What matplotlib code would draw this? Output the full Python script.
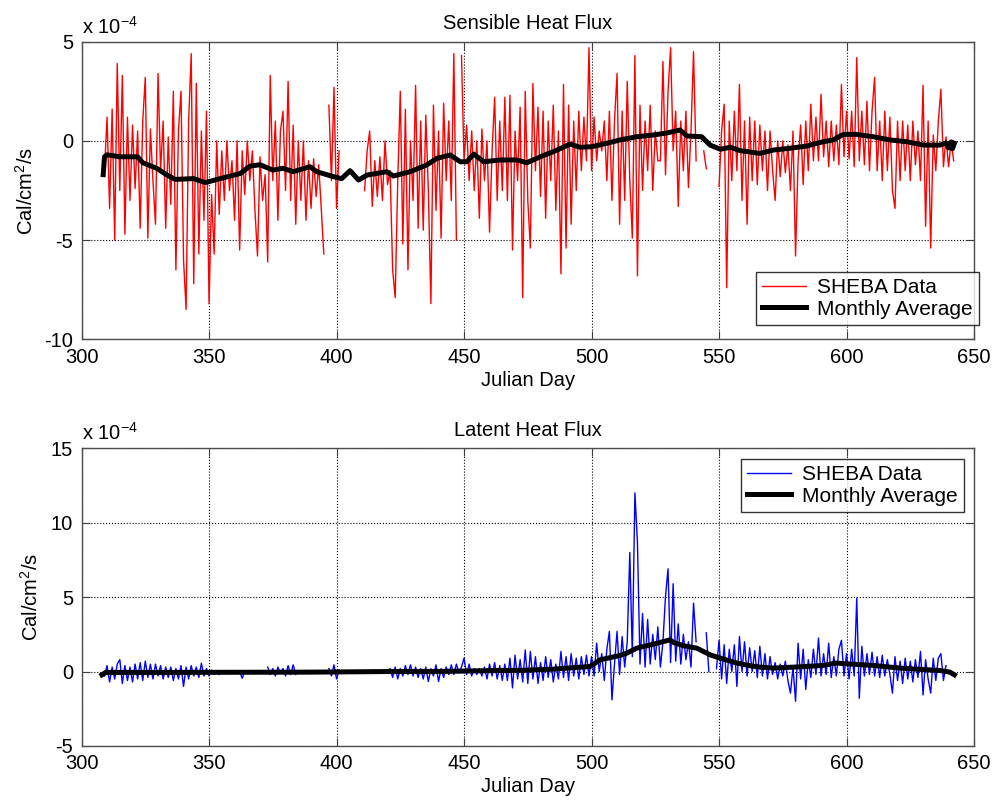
import numpy as np
import matplotlib
matplotlib.use("Agg")
import matplotlib.pyplot as plt

plt.rcParams['font.family'] = ['Liberation Sans', 'DejaVu Sans']
plt.rcParams['mathtext.fontset'] = 'custom'
plt.rcParams['mathtext.rm'] = 'Liberation Sans'
plt.rcParams['mathtext.it'] = 'Liberation Sans:italic'
plt.rcParams['axes.unicode_minus'] = False
plt.rcParams['font.size'] = 14.5

nan = np.nan
first_day = 309

# Sensible heat flux, one reading per day from day 309 (x 1e-4 cal/cm2/s)
sensible = [
    -1.5, 1.2, -3.4, 1.6, -5.0, 3.9, -2.5, 3.3, -4.7, 1.2,
    -3.0, 0.8, -2.4, 0.5, -4.4, 1.0, 3.2, -4.9, 0.6, -2.0,
    -4.2, 3.4, -1.5, 1.0, -4.4, 0.2, -3.2, 2.5, -6.5, 0.5,
    2.5, -6.0, -8.5, 1.0, 4.4, -7.2, 2.9, -5.7, 0.5, -4.0,
    1.5, -8.2, -2.7, -5.7, 0.0, -3.7, -0.5, -3.0, 0.0, -2.5,
    -1.0, -4.0, 0.0, -5.5, -0.5, -2.7, 0.0, -2.0, -0.5, -3.5,
    -5.8, -0.8, -3.0, -1.7, -6.1, 3.3, -2.0, 1.0, -4.0, 0.5,
    1.5, -2.5, 3.0, -3.0, 0.8, -4.2, 0.0, -3.0, 0.0, -4.0,
    -1.0, -3.4, -0.9, -2.8, -1.2, -3.4, -5.7, nan, 1.8, -2.0,
    2.7, -3.4, -0.5, nan, nan, nan, nan, nan, nan, nan,
    nan, nan, -2.5, -0.5, 0.5, -3.3, -1.0, -2.8, -0.8, -3.0,
    0.0, -2.2, -1.5, -6.5, -7.9, -2.0, 2.5, -5.2, 1.6, -6.5,
    0.0, -3.0, 2.8, -4.4, 1.0, -4.5, 1.3, -2.5, -8.2, 1.8,
    -3.5, 0.5, -4.9, 1.9, -2.0, 1.0, -3.0, 4.4, -5.0, nan,
    4.3, -1.0, 0.8, -2.0, 0.5, -2.5, 0.0, -3.9, 0.6, -2.0,
    0.0, -4.6, -0.5, 2.2, -3.0, 1.0, -2.5, 2.2, -3.0, 2.3,
    -5.5, 0.5, -2.0, 1.7, -7.9, 2.5, -3.0, -5.4, 2.9, -1.5,
    1.7, -2.8, 1.5, -3.9, 1.0, -2.0, 1.8, -3.5, 0.5, -6.7,
    2.85, -5.4, 1.8, -4.2, 1.0, -2.5, 1.5, -1.5, 1.2, -1.0,
    4.7, -1.5, 1.2, -1.0, 0.5, -0.5, 1.0, -2.0, 1.5, -3.0,
    1.0, 3.4, -4.2, 1.5, -3.0, 3.0, -2.0, -4.9, 4.3, -6.8,
    1.8, -2.5, 1.0, -1.5, 1.8, -2.5, 0.5, -1.0, -1.0, 4.0,
    -1.7, 2.5, 4.7, -0.5, 1.5, -3.3, 1.0, -1.5, 1.5, -2.35,
    0.5, 4.5, -1.0, nan, nan, -0.5, -1.4, nan, nan, nan,
    nan, -2.3, 0.5, 1.85, -7.4, 1.0, -2.0, 1.5, -1.5, 2.85,
    -3.0, 1.0, -4.2, 1.2, -2.0, 1.0, -2.2, 0.8, -1.5, 0.5,
    -2.5, 0.5, -1.5, -3.0, 0.0, -1.8, 0.0, -1.6, -0.2, -2.5,
    0.5, -5.8, -1.0, 0.8, -2.2, 1.0, -1.5, 1.85, -1.0, 1.2,
    -1.0, 2.35, -0.8, 1.0, -1.3, 1.0, -1.0, 0.8, -1.2, 2.85,
    -0.8, 1.5, -0.9, 1.5, -1.3, 4.2, -1.0, 1.5, -1.2, 2.0,
    -1.5, 1.5, 3.2, -1.5, 1.0, -2.0, 1.5, -1.5, 1.2, -2.5,
    -3.4, 1.0, -2.0, 1.0, -1.5, 0.8, -2.0, 1.0, -1.2, 0.5,
    -2.0, 2.8, -4.3, 1.0, -5.4, 0.3, -1.5, 1.0, 2.6, -1.3,
    0.2, -1.3, 0.0, -1.0,
]

# Latent heat flux, one reading per day from day 309
latent = [
    -0.3, 0.4, -0.7, 0.3, -0.5, 0.5, 0.8, -0.8, 0.4, -0.6,
    0.3, -0.7, 0.5, -0.5, 0.6, -0.6, 0.7, -0.4, 0.5, -0.5,
    0.5, -0.3, 0.4, -0.5, 0.3, -0.4, 0.3, -0.6, 0.2, -0.5,
    0.4, -1.0, 0.3, -0.5, 0.4, -0.3, 0.3, -0.4, 0.56, -0.3,
    0.2, -0.3, 0.1, -0.2, 0.0, -0.2, nan, nan, nan, nan,
    nan, nan, nan, 0.0, -0.45, 0.0, nan, nan, nan, nan,
    nan, nan, nan, nan, 0.3, -0.2, 0.2, -0.3, 0.3, -0.1,
    0.2, -0.3, 0.4, -0.2, 0.45, -0.2, nan, nan, nan, nan,
    nan, nan, nan, nan, nan, nan, nan, nan, 0.2, -0.3,
    0.45, -0.5, 0.1, nan, nan, nan, nan, nan, nan, nan,
    nan, nan, nan, nan, nan, nan, nan, nan, nan, nan,
    nan, nan, 0.2, -0.4, 0.3, -0.5, 0.2, -0.3, 0.4, -0.2,
    0.45, -0.3, 0.3, -0.4, 0.2, -0.5, 0.3, -0.67, 0.2, -0.3,
    0.45, -0.67, 0.2, -0.4, 0.3, -0.2, 0.45, -0.2, 0.5, -0.1,
    0.3, 0.9, -0.2, 0.5, -0.3, 0.2, -0.2, 0.2, -0.3, 0.3,
    -0.5, 0.5, -0.3, 0.6, -0.5, 0.4, -0.6, 0.5, -0.6, 0.9,
    -1.1, 1.1, -0.5, 0.8, -0.7, 1.45, -0.8, 1.35, -0.5, 1.0,
    -0.8, 0.6, -0.6, 1.0, -0.4, 0.8, -0.7, 0.5, -0.5, 1.35,
    -0.4, 1.0, -0.6, 1.2, -0.3, 0.9, -0.5, 1.0, -0.2, 1.1,
    -0.3, 1.0, -0.3, 1.9, 0.0, 1.2, -0.6, 1.5, 2.7, -1.9,
    0.5, 2.7, -0.2, 2.35, 0.3, 2.0, 8.0, 1.0, 12.0, 8.7,
    0.5, 3.9, 0.3, 3.5, 0.5, 2.5, 0.8, 3.0, 0.3, 2.0,
    5.04, 6.9, 0.6, 5.9, 0.7, 3.2, 0.5, 2.5, 0.8, 2.0,
    0.3, 4.6, 2.0, nan, nan, nan, 2.6, 0.0, nan, nan,
    0.2, 2.1, -0.5, 1.8, -0.8, 1.5, 0.0, 1.8, -1.0, 2.35,
    0.0, 2.0, -0.3, 1.6, 0.0, 1.4, -0.4, 1.7, -0.3, 1.2,
    -0.5, 1.0, -0.2, 0.6, -0.5, 0.5, -0.3, 0.7, -0.6, -1.45,
    0.3, -2.0, 1.9, -0.5, 1.5, -1.2, 0.8, -0.4, 1.5, -0.2,
    2.25, -0.3, 1.2, -0.2, 1.9, -0.4, 1.0, -0.3, 1.5, 2.1,
    -0.3, 1.2, -0.5, 1.5, -0.3, 4.93, -1.8, 1.7, -0.3, 1.2,
    -0.2, 1.3, -0.3, 1.0, -0.4, 1.1, -0.3, 0.8, -0.2, -1.45,
    1.0, -0.6, 0.7, -0.8, 0.9, -0.5, 0.7, -0.7, 0.8, -0.4,
    1.35, -1.57, 0.8, -0.5, -1.45, 0.9, -0.6, 0.9, 1.2, -0.6,
    0.4, nan, nan, nan,
]

# Monthly (running) averages
sens_avg_days = [308.5, 309, 310, 315, 322, 324, 329.5, 333.5, 336.7, 344,
                 348.5, 354.4, 362.3, 366, 370, 375, 379, 383, 389.6, 392.2,
                 398.8, 402, 405.3, 408.6, 412, 419.7, 422.3, 428.9, 435.4, 439.3,
                 444.6, 448.5, 451.1, 453.8, 457.7, 464.2, 470.8, 474.6, 479.9, 485.1,
                 491.6, 495.5, 500.1, 506, 511.2, 517.7, 524.3, 529.5, 534.7, 537.4,
                 543.2, 546.5, 550.5, 554.4, 558.3, 566, 571.3, 577.8, 584.3, 590.8,
                 594.8, 598.7, 603.9, 610.5, 617, 623.6, 630.1, 636.6, 639, 640,
                 641, 641.5, 642.3]
sens_avg = [-1.7, -0.8, -0.7, -0.8, -0.8, -1.1, -1.38, -1.72, -1.94, -1.9,
            -2.1, -1.9, -1.64, -1.27, -1.2, -1.47, -1.38, -1.55, -1.3, -1.55,
            -1.8, -1.9, -1.5, -1.97, -1.72, -1.55, -1.77, -1.55, -1.21, -0.88,
            -0.71, -1.05, -1.05, -0.66, -1.05, -0.96, -0.96, -1.1, -0.8, -0.54,
            -0.16, -0.32, -0.29, -0.12, 0.05, 0.21, 0.3, 0.4, 0.55, 0.25,
            0.21, -0.21, -0.42, -0.32, -0.49, -0.63, -0.46, -0.37, -0.26, -0.04,
            0.05, 0.33, 0.33, 0.21, 0.05, -0.04, -0.21, -0.21, -0.1, -0.35,
            -0.05, -0.4, -0.12]

lat_avg_days = [308, 309.5, 330, 360, 390, 420, 438, 464, 472, 485,
                499.4, 503.4, 511.2, 513.9, 517.7, 524.3, 530.8, 532.2, 536.1, 541.3,
                546.5, 550.5, 557, 562.2, 566, 571.3, 584.3, 590.8, 596, 600,
                610.5, 621, 631.4, 636.6, 640.5, 642.3]
lat_avg = [-0.22, -0.06, -0.06, -0.05, -0.04, 0.0, 0.0, 0.07, 0.08, 0.16,
           0.34, 0.79, 1.08, 1.24, 1.57, 1.84, 2.13, 1.95, 1.73, 1.57,
           1.12, 0.9, 0.57, 0.39, 0.3, 0.23, 0.34, 0.41, 0.57, 0.52,
           0.41, 0.23, 0.12, 0.07, -0.04, -0.22]

x_ticks = [300, 350, 400, 450, 500, 550, 600, 650]
FS = 14.5


def style_axes(ax, ylim, yticks, title):
    ax.set_xlim(300, 650)
    ax.set_ylim(*ylim)
    ax.set_xticks(x_ticks)
    ax.set_yticks(yticks)
    ax.grid(True, linestyle=':', color='black', linewidth=0.8)
    ax.tick_params(direction='in', length=6, top=True, right=True,
                   colors='0.25', labelcolor='black', labelsize=FS, pad=6)
    for s in ax.spines.values():
        s.set_color('0.3')
        s.set_linewidth(1.0)
    ax.set_title(title, fontsize=FS, pad=9)
    ax.set_xlabel('Julian Day', fontsize=FS)
    ax.xaxis.set_label_coords(0.5, -0.105)
    ax.xaxis.label.set_va('top')
    ax.set_ylabel('Cal/cm$^2$/s', fontsize=FS)
    ax.text(0.0, 1.027, 'x 10$^{-4}$', transform=ax.transAxes,
            ha='left', va='baseline', fontsize=FS)


def add_legend(ax, loc, anchor):
    leg = ax.legend(loc=loc, bbox_to_anchor=anchor, fontsize=15,
                    frameon=True, fancybox=False, handlelength=2.1,
                    handletextpad=0.55, labelspacing=0.12, borderpad=0.3,
                    borderaxespad=0)
    leg.get_frame().set_edgecolor('black')
    leg.get_frame().set_linewidth(1.0)
    return leg


fig = plt.figure(figsize=(9.92, 8.01), dpi=100)
ax1 = fig.add_axes([0.0822, 0.5764, 0.8997, 0.3715])
ax2 = fig.add_axes([0.0822, 0.0687, 0.8997, 0.3717])

days = first_day + np.arange(len(sensible))
ax1.plot(days, sensible, color='red', linewidth=1.0, label='SHEBA Data')
ax1.plot(sens_avg_days, sens_avg, color='black', linewidth=3.6,
         solid_joinstyle='round', label='Monthly Average')
style_axes(ax1, (-10, 5), [-10, -5, 0, 5], 'Sensible Heat Flux')
ax1.yaxis.set_label_coords(-0.05, 0.5)
add_legend(ax1, 'lower right', (1.0056, 0.048))

days2 = first_day + np.arange(len(latent))
ax2.plot(days2, latent, color='blue', linewidth=1.0, label='SHEBA Data')
ax2.plot(lat_avg_days, lat_avg, color='black', linewidth=3.6,
         solid_joinstyle='round', label='Monthly Average')
style_axes(ax2, (-5, 15), [-5, 0, 5, 10, 15], 'Latent Heat Flux')
ax2.yaxis.set_label_coords(-0.044, 0.5)
add_legend(ax2, 'upper right', (0.9888, 0.964))

fig.savefig('out.png', dpi=100)
